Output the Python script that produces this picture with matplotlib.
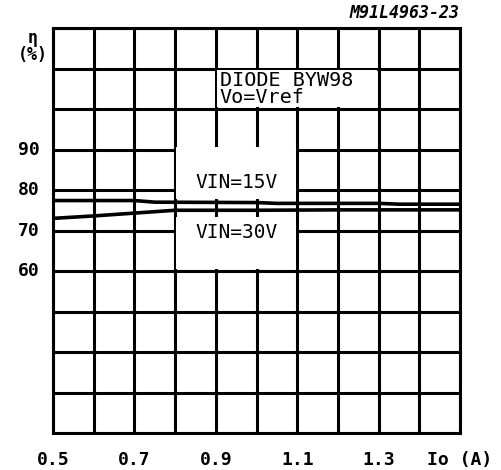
import matplotlib
matplotlib.use("Agg")
import matplotlib.pyplot as plt
from matplotlib.patches import Rectangle

# efficiency vs output current
io_15v = [0.5, 0.7, 0.75, 1.0, 1.05, 1.3, 1.35, 1.5]
eff_15v = [77.4, 77.4, 77.0, 76.9, 76.7, 76.7, 76.5, 76.5]
io_30v = [0.5, 0.6, 0.7, 0.8, 1.0, 1.2, 1.5]
eff_30v = [73.0, 73.6, 74.3, 75.0, 75.0, 75.1, 75.1]

x_ticks = [0.5, 0.7, 0.9, 1.1, 1.3, 1.5]
x_labels = ["0.5", "0.7", "0.9", "1.1", "1.3", "Io (A)"]
y_ticks = [60, 70, 80, 90]
y_labels = ["60", "70", "80", "90"]

mono = "DejaVu Sans Mono"

fig = plt.figure(figsize=(5.02, 4.70), dpi=100)
ax = fig.add_axes([0.1056, 0.0787, 0.8108, 0.8617])
ax.set_xlim(0.5, 1.5)
ax.set_ylim(20, 120)

# grid every 0.1 A and every 10 %
ax.set_xticks([0.5 + 0.1 * i for i in range(11)])
ax.set_yticks([20 + 10 * i for i in range(11)])
ax.grid(True, color="black", linewidth=2.2)
ax.set_axisbelow(True)
ax.tick_params(length=0, labelbottom=False, labelleft=False)
for s in ax.spines.values():
    s.set_linewidth(2.2)

# white boxes behind the labels (as in the datasheet)
for (x0, y0, w, h) in [(0.803, 77.9, 0.294, 12.7),
                       (0.803, 60.4, 0.294, 13.0),
                       (0.903, 100.4, 0.394, 9.2)]:
    ax.add_patch(Rectangle((x0, y0), w, h, facecolor="white",
                           edgecolor="none", zorder=1))

ax.plot(io_15v, eff_15v, color="black", linewidth=2.6, zorder=3)
ax.plot(io_30v, eff_30v, color="black", linewidth=2.6, zorder=3)

ax.text(0.95, 81.8, "VIN=15V", family=mono, fontsize=14, ha="center",
        va="center", zorder=4)
ax.text(0.95, 69.6, "VIN=30V", family=mono, fontsize=14, ha="center",
        va="center", zorder=4)
ax.text(0.91, 105, "DIODE BYW98\nVo=Vref", family=mono, fontsize=14.5,
        ha="left", va="center", linespacing=0.85, zorder=4)

# tick labels drawn as text so "Io (A)" can sit at the last position
for xv, lab in zip(x_ticks, x_labels):
    ax.text(xv, 13.3, lab, family=mono, fontweight="bold", fontsize=13,
            ha="center", va="center")
for yv, lab in zip(y_ticks, y_labels):
    ax.text(0.468, yv, lab, family=mono, fontweight="bold", fontsize=13,
            ha="right", va="center")

ax.text(0.45, 115.5, "η\n(%)", family=mono, fontweight="bold", fontsize=12,
        ha="center", va="center", linespacing=0.9)
fig.text(0.916, 0.972, "M91L4963-23", family=mono, fontweight="bold",
         style="italic", fontsize=12, ha="right", va="center")

fig.savefig("out.png", dpi=100)
